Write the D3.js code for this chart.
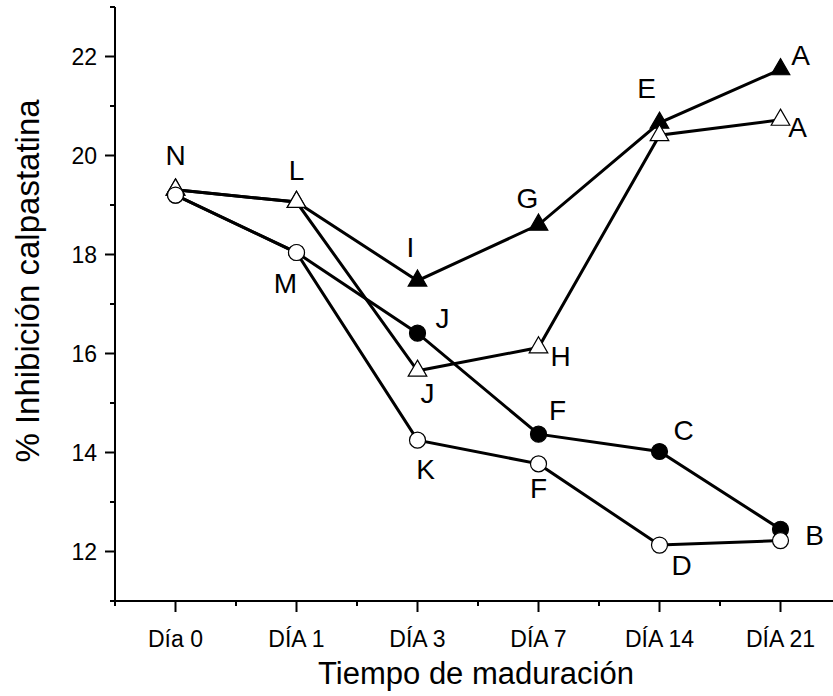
<!DOCTYPE html>
<html>
<head>
<meta charset="utf-8">
<script src="https://cdn.jsdelivr.net/npm/d3@7"></script>
<style>
  body { margin: 0; background: #fff; }
  text { font-family: "Liberation Sans", Arial, sans-serif; fill: #000; }
</style>
</head>
<body>
<div id="drawing"></div>
<script>
const width = 833;
const height = 696;

// categories on the x axis
const days = ["Día 0", "DÍA 1", "DÍA 3", "DÍA 7", "DÍA 14", "DÍA 21"];
const yTicks = [12, 14, 16, 18, 20, 22];

// four series
const filledTri = [19.31, 19.06, 17.47, 18.6, 20.66, 21.74];
const openTri = [19.31, 19.06, 15.65, 16.12, 20.41, 20.72];
const filledCirc = [19.2, 18.04, 16.41, 14.37, 14.02, 12.45];
const openCirc = [19.2, 18.04, 14.25, 13.77, 12.13, 12.22];

// letters next to points
const filledTriLetters = ["", "", "I", "G", "E", "A"];
const openTriLetters = ["N", "L", "J", "H", "", "A"];
const filledCircLetters = ["", "", "J", "F", "C", "B"];
const openCircLetters = ["", "M", "K", "F", "D", ""];

const svg = d3.select("#drawing").append("svg")
  .attr("width", width)
  .attr("height", height);

const xScale = d3.scaleLinear().domain([-0.5, 5.5]).range([115, 841]);
const yScale = d3.scaleLinear().domain([11, 23]).range([601, 7]);

// x axis
const xAxis = svg.append("g").attr("transform", "translate(0,601)");
xAxis.append("line")
  .attr("x1", xScale(-0.5)).attr("x2", width)
  .attr("stroke", "#000").attr("stroke-width", 2);
xAxis.selectAll(".major").data(days).enter().append("line")
  .attr("x1", (d, i) => xScale(i)).attr("x2", (d, i) => xScale(i))
  .attr("y1", 0).attr("y2", 11)
  .attr("stroke", "#000").attr("stroke-width", 2);
xAxis.selectAll(".minor").data(d3.range(-0.5, 5, 1)).enter().append("line")
  .attr("x1", d => xScale(d)).attr("x2", d => xScale(d))
  .attr("y1", 0).attr("y2", 5)
  .attr("stroke", "#000").attr("stroke-width", 2);
xAxis.selectAll("text").data(days).enter().append("text")
  .attr("x", (d, i) => xScale(i)).attr("y", 46)
  .attr("text-anchor", "middle")
  .style("font-size", "23px")
  .text(d => d);

// y axis
const yAxis = svg.append("g").attr("transform", "translate(115,0)");
yAxis.append("line")
  .attr("y1", yScale(23)).attr("y2", yScale(11))
  .attr("stroke", "#000").attr("stroke-width", 2);
yAxis.selectAll(".major").data(yTicks).enter().append("line")
  .attr("y1", d => yScale(d)).attr("y2", d => yScale(d))
  .attr("x1", 0).attr("x2", -10)
  .attr("stroke", "#000").attr("stroke-width", 2);
yAxis.selectAll(".minor").data(d3.range(11, 24, 2)).enter().append("line")
  .attr("y1", d => yScale(d)).attr("y2", d => yScale(d))
  .attr("x1", 0).attr("x2", -5)
  .attr("stroke", "#000").attr("stroke-width", 2);
yAxis.selectAll("text").data(yTicks).enter().append("text")
  .attr("x", -18).attr("y", d => yScale(d) + 8)
  .attr("text-anchor", "end")
  .style("font-size", "23px")
  .text(d => d);

// axis titles
svg.append("text")
  .attr("x", 476).attr("y", 684)
  .attr("text-anchor", "middle")
  .style("font-size", "31px")
  .text("Tiempo de maduración");
svg.append("text")
  .attr("transform", "translate(39,281) rotate(-90)")
  .attr("text-anchor", "middle")
  .style("font-size", "33px")
  .text("% Inhibición calpastatina");

const line = d3.line().x((d, i) => xScale(i)).y(d => yScale(d));

const series = [
  {values: filledTri, shape: "tri", fill: "#000"},
  {values: filledCirc, shape: "circ", fill: "#000"},
  {values: openTri, shape: "tri", fill: "#fff"},
  {values: openCirc, shape: "circ", fill: "#fff"}
];

series.forEach(s => {
  svg.append("path")
    .datum(s.values)
    .attr("d", line)
    .attr("fill", "none")
    .attr("stroke", "#000")
    .attr("stroke-width", 3);
});

const triPath = d3.symbol().type(d3.symbolTriangle).size(150);
series.forEach(s => {
  const g = svg.append("g");
  s.values.forEach((v, i) => {
    if (s.shape === "tri") {
      g.append("path")
        .attr("d", triPath())
        .attr("transform", `translate(${xScale(i)},${yScale(v)})`)
        .attr("fill", s.fill)
        .attr("stroke", "#000")
        .attr("stroke-width", 1.2);
    } else {
      g.append("circle")
        .attr("cx", xScale(i)).attr("cy", yScale(v))
        .attr("r", 8)
        .attr("fill", s.fill)
        .attr("stroke", "#000")
        .attr("stroke-width", 1.2);
    }
  });
});

// letter offsets (dx, baseline dy) relative to the point
const letterSets = [
  {letters: filledTriLetters, values: filledTri, off: [[0,0],[0,0],[-7,-24],[-11,-17],[-13,-25],[20,-4]]},
  {letters: openTriLetters, values: openTri, off: [[0,-25],[0,-22],[10,32],[22,18],[0,0],[17,17]]},
  {letters: filledCircLetters, values: filledCirc, off: [[0,0],[0,0],[25,-5],[19,-14],[24,-12],[34,16]]},
  {letters: openCircLetters, values: openCirc, off: [[0,0],[-11,40],[8,39],[0,34],[22,30],[0,0]]}
];
letterSets.forEach(s => {
  svg.append("g").selectAll("text")
    .data(s.letters)
    .enter().append("text")
    .attr("x", (d, i) => xScale(i) + s.off[i][0])
    .attr("y", (d, i) => yScale(s.values[i]) + s.off[i][1])
    .attr("text-anchor", "middle")
    .style("font-size", "28px")
    .text(d => d);
});
</script>
</body>
</html>
